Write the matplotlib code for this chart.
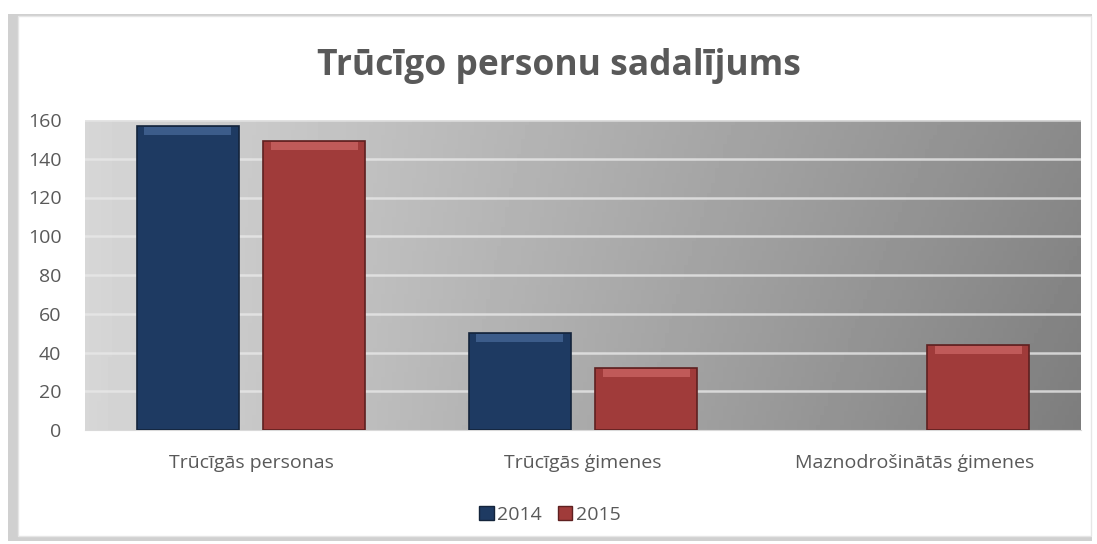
import matplotlib.pyplot as plt
import matplotlib.patches as mpatches
import numpy as np

categories = ['Trūcīgās personas', 'Trūcīgās ģimenes', 'Maznodrošinātās ģimenes']
series_names = ['2014', '2015']
values_2014 = [157, 50, 0]
values_2015 = [149, 32, 44]
y_ticks = [0, 20, 40, 60, 80, 100, 120, 140, 160]

blue = '#1e3a62'
red = '#a03b3a'
text_col = '#595959'

plt.rcParams['font.family'] = ['Open Sans', 'DejaVu Sans']

fig = plt.figure(figsize=(10.97, 5.44), dpi=100)

# outer chart frame with shadow on the left/bottom
fig.patches.append(mpatches.Rectangle((8 / 1097, 1 - 541 / 544), 1084 / 1097, 527 / 544,
                                      transform=fig.transFigure, facecolor='#d0d0d0',
                                      edgecolor='none', zorder=-2))
fig.patches.append(mpatches.Rectangle((18 / 1097, 1 - 536 / 544), 1073 / 1097, 520 / 544,
                                      transform=fig.transFigure, facecolor='white',
                                      edgecolor='#e6e6e6', lw=1, zorder=-1))

ax = fig.add_axes([85 / 1097, 1 - 430 / 544, 996 / 1097, 310 / 544])
ax.set_zorder(5)
ax.patch.set_alpha(0)

# gradient background
xg = np.linspace(0, 1, 256)
yg = np.linspace(0, 1, 64)
X, Y = np.meshgrid(xg, yg)
shade = 0.84 - 0.30 * X - 0.05 * (1 - Y) * X
ax.imshow(shade, extent=[-0.5, 2.5, 0, 160], aspect='auto', cmap='gray',
          vmin=0, vmax=1, origin='lower', zorder=0)

x = np.arange(len(categories))
w = 0.307
off = 0.191

for yt in y_ticks[1:]:
    ax.axhline(yt, color='#e8e8e8', lw=1.8, alpha=0.8, zorder=1)

def bevel_bars(xs, vals, col, light):
    for xi, v in zip(xs, vals):
        if v <= 0:
            continue
        ax.bar(xi, v, w, color=col, edgecolor='#14243b' if col == blue else '#5e2020',
               lw=1.2, zorder=3)
        top = min(4.0, v * 0.3)
        ax.bar(xi, top, w * 0.86, bottom=v - top - 0.6, color=light, alpha=0.5,
               lw=0, zorder=4)

bevel_bars(x - off, values_2014, blue, '#5b7fb3')
bevel_bars(x + off, values_2015, red, '#e07a78')

ax.set_xlim(-0.5, 2.5)
ax.set_ylim(0, 160)
ax.set_yticks(y_ticks)
ax.set_xticks(x)
ax.set_xticklabels(categories)
ax.tick_params(axis='both', length=0, labelsize=14, colors=text_col, pad=17)
ax.tick_params(axis='y', pad=17)
for s in ax.spines.values():
    s.set_visible(False)
ax.spines['bottom'].set_visible(True)
ax.spines['bottom'].set_color('#d9d9d9')

fig.text(559 / 1097, 1 - 66 / 544, 'Trūcīgo personu sadalījums', ha='center', va='center',
         fontsize=25.5, fontweight='bold', color=text_col, zorder=6)

handles = [mpatches.Patch(facecolor=blue, edgecolor='#14243b', label=series_names[0]),
           mpatches.Patch(facecolor=red, edgecolor='#5e2020', label=series_names[1])]
leg = fig.legend(handles=handles, loc='center', bbox_to_anchor=(550 / 1097, 1 - 515 / 544),
                 ncol=2, frameon=False, fontsize=14, handlelength=0.75, handleheight=0.75,
                 handletextpad=0.2, columnspacing=0.8)
leg.set_zorder(6)
for t in leg.get_texts():
    t.set_color(text_col)

fig.savefig('out.png', dpi=100)
